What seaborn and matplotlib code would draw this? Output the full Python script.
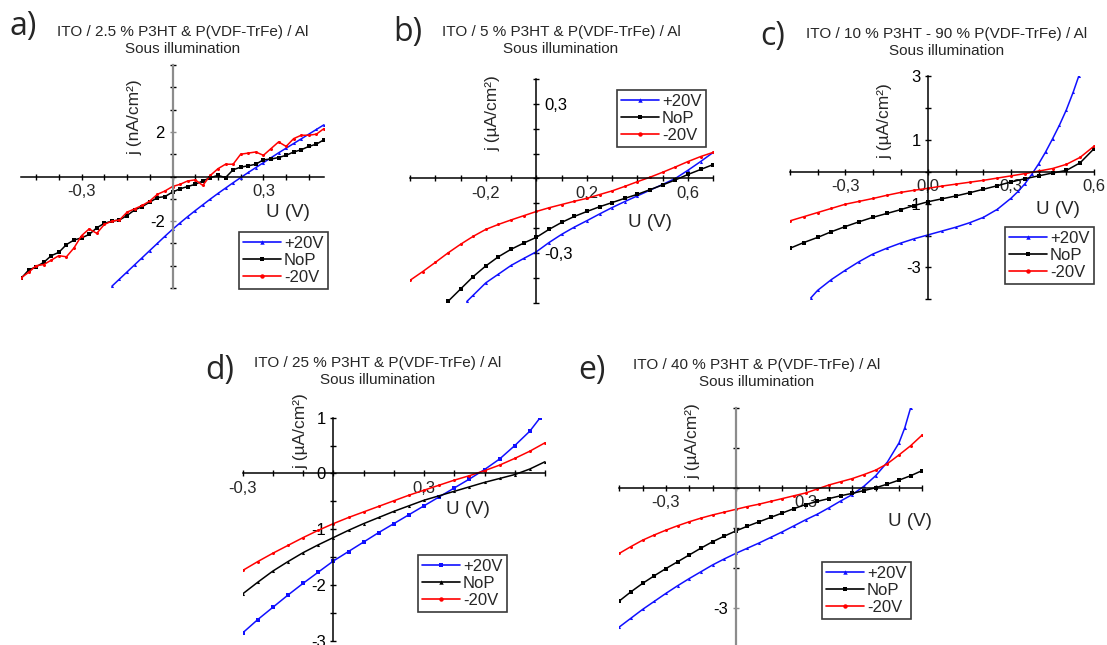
import numpy as np
import matplotlib
matplotlib.use("Agg")
import matplotlib.pyplot as plt
from matplotlib.lines import Line2D
import seaborn as sns

# ---------------- data ----------------
# a) 2.5 % P3HT  (nA/cm2)
A_U = [-0.5, -0.475, -0.45, -0.425, -0.4, -0.375, -0.35, -0.325, -0.3, -0.275, -0.25, -0.225, -0.2, -0.175,
       -0.15, -0.125, -0.1, -0.075, -0.05, -0.025, 0, 0.025, 0.05, 0.075, 0.1, 0.125, 0.15, 0.175, 0.2, 0.225,
       0.25, 0.275, 0.3, 0.325, 0.35, 0.375, 0.4, 0.425, 0.45, 0.475, 0.5]
A_NOP = [-4.57, -4.2, -4.05, -3.85, -3.55, -3.4, -3.05, -2.85, -2.75, -2.6, -2.3, -2.1, -2.0, -1.95, -1.75,
         -1.5, -1.35, -1.15, -0.95, -0.9, -0.7, -0.55, -0.45, -0.35, -0.2, -0.05, 0.05, -0.05, 0.3, 0.42,
         0.48, 0.55, 0.75, 0.78, 0.85, 0.95, 1.1, 1.2, 1.35, 1.45, 1.65]
A_M20 = [-4.55, -4.3, -4.0, -3.95, -3.75, -3.55, -3.6, -3.2, -2.65, -2.35, -2.55, -2.15, -2.0, -1.95, -1.6,
         -1.45, -1.3, -1.1, -0.8, -0.65, -0.45, -0.35, -0.2, -0.15, -0.4, 0.05, 0.35, 0.55, 0.55, 1.0,
         1.05, 1.1, 0.95, 1.25, 1.55, 1.35, 1.7, 1.85, 1.85, 1.9, 2.15]
A_U_P20 = [-0.2, -0.175, -0.15, -0.125, -0.1, -0.075, -0.05, -0.025, 0, 0.025, 0.05, 0.075, 0.1, 0.125, 0.15,
           0.175, 0.2, 0.225, 0.25, 0.275, 0.3, 0.325, 0.35, 0.375, 0.4, 0.425, 0.45, 0.475, 0.5]
A_P20 = [-4.92, -4.6, -4.28, -3.96, -3.64, -3.32, -3.0, -2.68, -2.37, -2.08, -1.8, -1.53, -1.27, -1.01, -0.76,
         -0.52, -0.28, -0.05, 0.18, 0.4, 0.62, 0.84, 1.06, 1.27, 1.48, 1.69, 1.9, 2.11, 2.32]

# b) 5 % P3HT  (uA/cm2)
B_U_M20 = [-0.5, -0.45, -0.4, -0.35, -0.3, -0.25, -0.2, -0.15, -0.1, -0.05, 0, 0.05, 0.1, 0.15, 0.2, 0.25,
           0.3, 0.35, 0.4, 0.45, 0.5, 0.55, 0.6, 0.65, 0.7]
B_M20 = [-0.41, -0.375, -0.338, -0.3, -0.265, -0.233, -0.205, -0.185, -0.167, -0.15, -0.133, -0.118, -0.105,
         -0.092, -0.08, -0.065, -0.05, -0.032, -0.013, 0.005, 0.025, 0.046, 0.068, 0.088, 0.105]
B_U_NOP = [-0.35, -0.3, -0.25, -0.2, -0.15, -0.1, -0.05, 0, 0.05, 0.1, 0.15, 0.2, 0.25, 0.3, 0.35, 0.4,
           0.45, 0.5, 0.55, 0.6, 0.65, 0.7]
B_NOP = [-0.495, -0.445, -0.395, -0.352, -0.315, -0.285, -0.26, -0.237, -0.205, -0.177, -0.153, -0.133,
         -0.114, -0.097, -0.08, -0.064, -0.045, -0.026, -0.006, 0.016, 0.036, 0.056]
B_U_P20 = [-0.275, -0.25, -0.2, -0.15, -0.1, -0.05, 0, 0.05, 0.1, 0.15, 0.2, 0.25, 0.3, 0.35, 0.4, 0.45,
           0.5, 0.55, 0.6, 0.65, 0.7]
B_P20 = [-0.495, -0.47, -0.42, -0.385, -0.35, -0.322, -0.295, -0.258, -0.225, -0.196, -0.17, -0.143,
         -0.117, -0.093, -0.07, -0.047, -0.024, 0.0, 0.033, 0.068, 0.105]

# c) 10 % P3HT  (uA/cm2)
C_U = [-0.5, -0.45, -0.4, -0.35, -0.3, -0.25, -0.2, -0.15, -0.1, -0.05, 0, 0.05, 0.1, 0.15, 0.2, 0.25,
       0.3, 0.35, 0.4, 0.45, 0.5, 0.55, 0.6]
C_NOP = [-2.4, -2.22, -2.06, -1.88, -1.72, -1.57, -1.43, -1.31, -1.19, -1.06, -0.94, -0.85, -0.76, -0.66,
         -0.55, -0.44, -0.32, -0.22, -0.13, -0.04, 0.04, 0.28, 0.72]
C_M20 = [-1.54, -1.41, -1.28, -1.15, -1.02, -0.93, -0.84, -0.74, -0.65, -0.58, -0.52, -0.45, -0.39, -0.33,
         -0.27, -0.2, -0.13, -0.06, 0.02, 0.1, 0.23, 0.45, 0.8]
C_U_P20 = [-0.425, -0.4, -0.35, -0.3, -0.25, -0.2, -0.15, -0.1, -0.05, 0, 0.05, 0.1, 0.15, 0.2, 0.25, 0.3,
           0.325, 0.35, 0.375, 0.4, 0.425, 0.45, 0.475, 0.5, 0.525, 0.545]
C_P20 = [-3.96, -3.72, -3.38, -3.09, -2.82, -2.58, -2.4, -2.24, -2.1, -1.98, -1.86, -1.74, -1.6, -1.43,
         -1.18, -0.83, -0.62, -0.38, -0.08, 0.25, 0.62, 1.03, 1.46, 1.94, 2.5, 3.0]

# d) 25 % P3HT  (uA/cm2)
D_U = [-0.3, -0.25, -0.2, -0.15, -0.1, -0.05, 0, 0.05, 0.1, 0.15, 0.2, 0.25, 0.3, 0.35, 0.4, 0.45, 0.5,
       0.55, 0.6, 0.65, 0.7]
D_NOP = [-2.16, -1.95, -1.75, -1.58, -1.42, -1.28, -1.15, -1.02, -0.9, -0.79, -0.68, -0.58, -0.48, -0.4,
         -0.32, -0.24, -0.16, -0.09, -0.02, 0.08, 0.21]
D_M20 = [-1.74, -1.58, -1.43, -1.29, -1.15, -1.02, -0.9, -0.79, -0.69, -0.59, -0.49, -0.39, -0.3, -0.21,
         -0.12, -0.04, 0.05, 0.15, 0.27, 0.4, 0.55]
D_U_P20 = [-0.3, -0.25, -0.2, -0.15, -0.1, -0.05, 0, 0.05, 0.1, 0.15, 0.2, 0.25, 0.3, 0.35, 0.4, 0.45,
           0.5, 0.55, 0.6, 0.65, 0.684]
D_P20 = [-2.86, -2.62, -2.4, -2.18, -1.97, -1.77, -1.57, -1.4, -1.23, -1.06, -0.9, -0.74, -0.58, -0.42,
         -0.26, -0.1, 0.07, 0.26, 0.5, 0.76, 1.0]

# e) 40 % P3HT  (uA/cm2)
E_U = [-0.5, -0.45, -0.4, -0.35, -0.3, -0.25, -0.2, -0.15, -0.1, -0.05, 0, 0.05, 0.1, 0.15, 0.2, 0.25,
       0.3, 0.35, 0.4, 0.45, 0.5, 0.55, 0.6, 0.65, 0.7, 0.75, 0.8]
E_NOP = [-2.83, -2.6, -2.39, -2.2, -2.02, -1.85, -1.68, -1.51, -1.35, -1.21, -1.08, -0.96, -0.85, -0.74,
         -0.63, -0.52, -0.42, -0.34, -0.27, -0.2, -0.14, -0.07, 0.0, 0.09, 0.19, 0.3, 0.43]
E_M20 = [-1.64, -1.47, -1.31, -1.18, -1.06, -0.95, -0.85, -0.76, -0.68, -0.61, -0.54, -0.47, -0.41, -0.34,
         -0.27, -0.2, -0.13, -0.03, 0.07, 0.15, 0.23, 0.33, 0.44, 0.6, 0.82, 1.05, 1.32]
E_U_P20 = [-0.5, -0.45, -0.4, -0.35, -0.3, -0.25, -0.2, -0.15, -0.1, -0.05, 0, 0.05, 0.1, 0.15, 0.2, 0.25,
           0.3, 0.35, 0.4, 0.45, 0.5, 0.55, 0.6, 0.65, 0.7, 0.725, 0.75]
E_P20 = [-3.48, -3.26, -3.04, -2.84, -2.64, -2.45, -2.27, -2.1, -1.93, -1.78, -1.64, -1.51, -1.38, -1.24,
         -1.1, -0.95, -0.8, -0.66, -0.5, -0.33, -0.17, 0.04, 0.3, 0.64, 1.12, 1.5, 2.0]

SERIES_LABELS = ["+20V", "NoP", "-20V"]
TITLES = ["ITO / 2.5 % P3HT & P(VDF-TrFe) / Al",
          "ITO / 5 % P3HT & P(VDF-TrFe) / Al",
          "ITO / 10 % P3HT - 90 % P(VDF-TrFe) / Al",
          "ITO / 25 % P3HT & P(VDF-TrFe) / Al",
          "ITO / 40 % P3HT & P(VDF-TrFe) / Al"]
SUBTITLE = "Sous illumination"
LETTERS = ["a)", "b)", "c)", "d)", "e)"]
YLABELS = ["j (nA/cm²)", "j (µA/cm²)", "j (µA/cm²)", "j (µA/cm²)", "j (µA/cm²)"]
XLABEL = "U (V)"

# ---------------- style ----------------
sns.set_style("white")
plt.rcParams['font.family'] = ['Liberation Sans', 'DejaVu Sans']
W, H = 1107, 645
fig = plt.figure(figsize=(W / 100, H / 100), dpi=100)

BLUE, BLACK, RED = "#1010ff", "#000000", "#ff0000"


def rect(l, r, t, b):
    return [l / W, 1 - b / H, (r - l) / W, (b - t) / H]


panels = [
    dict(rect=rect(21, 324, 65, 288), xlim=(-0.5, 0.5), ylim=(-5, 5),
         xt=[-0.3, 0.3], xtl=["-0,3", "0,3"], xminor=np.arange(-0.45, 0.5, 0.075),
         yt=[-2, 2], ytl=["-2", "2"], yminor=np.arange(-5, 5.1, 1), yright=False, ycol="#8c8c8c",
         series=[(A_U_P20, A_P20, BLUE, "^"), (A_U, A_NOP, BLACK, "s"), (A_U, A_M20, RED, "o")],
         leg=(239, 232), title=(183, 32), letter=(23, 26), ylab=(135, 117), xlab=(288, 212)),
    dict(rect=rect(410, 713.3, 79, 302.7), xlim=(-0.5, 0.7), ylim=(-0.5, 0.4),
         xt=[-0.2, 0.2, 0.6], xtl=["-0,2", "0,2", "0,6"], xminor=np.arange(-0.5, 0.71, 0.1),
         yt=[-0.3, 0.3], ytl=["-0,3", "0,3"], yminor=np.arange(-0.5, 0.41, 0.1), yright=True, ycol="black",
         series=[(B_U_P20, B_P20, BLUE, "^"), (B_U_NOP, B_NOP, BLACK, "s"), (B_U_M20, B_M20, RED, "o")],
         leg=(617, 90), title=(561, 32), letter=(408, 33), ylab=(493, 113), xlab=(650, 222)),
    dict(rect=rect(790, 1094, 76, 299.3), xlim=(-0.5, 0.6), ylim=(-4, 3),
         xt=[-0.3, 0.0, 0.3, 0.6], xtl=["-0,3", "0,0", "0,3", "0,6"], xminor=np.arange(-0.5, 0.61, 0.1),
         yt=[-3, -1, 1, 3], ytl=["-3", "-1", "1", "3"], yminor=np.arange(-4, 3.1, 1), yright=False,
         ycol="black",
         series=[(C_U_P20, C_P20, BLUE, "^"), (C_U, C_NOP, BLACK, "s"), (C_U, C_M20, RED, "o")],
         leg=(1005, 227), title=(947, 34), letter=(773, 37), ylab=(885, 121), xlab=(1058, 210)),
    dict(rect=rect(242.7, 545, 417.7, 640.7), xlim=(-0.3, 0.7), ylim=(-3, 1),
         xt=[-0.3, 0.3], xtl=["-0,3", "0,3"], xminor=np.arange(-0.3, 0.71, 0.1),
         yt=[-3, -2, -1, 0, 1], ytl=["-3", "-2", "-1", "0", "1"], yminor=np.arange(-3, 1.01, 0.5),
         yright=False, ycol="black",
         series=[(D_U_P20, D_P20, BLUE, "s"), (D_U, D_NOP, BLACK, "^"), (D_U, D_M20, RED, "o")],
         leg=(418, 555), title=(378, 363), letter=(220, 370), ylab=(301, 431), xlab=(468, 510)),
    dict(rect=rect(619.3, 922.3, 407.7, 645), xlim=(-0.5, 0.8), ylim=(-3.93, 2),
         xt=[-0.3, 0.3], xtl=["-0,3", "0,3"], xminor=np.arange(-0.5, 0.81, 0.1),
         yt=[-3], ytl=["-3"], yminor=np.arange(-3, 2.01, 1), yright=False, ycol="#8c8c8c",
         series=[(E_U_P20, E_P20, BLUE, "^"), (E_U, E_NOP, BLACK, "s"), (E_U, E_M20, RED, "o")],
         leg=(822, 562), title=(757, 365), letter=(592, 370), ylab=(693, 441), xlab=(910, 522)),
]

for i, p in enumerate(panels):
    ax = fig.add_axes(p["rect"])
    ax.set_facecolor("none")
    for (xs, ys, col, mk), lab in zip(p["series"], SERIES_LABELS):
        sns.lineplot(x=xs, y=ys, ax=ax, color=col, marker=mk, markersize=2.2, markeredgewidth=0,
                     linewidth=1.1, sort=False, estimator=None, legend=False)
    ax.set_xlim(*p["xlim"])
    ax.set_ylim(*p["ylim"])
    ax.set_xlabel("")
    ax.set_ylabel("")
    ax.spines["top"].set_visible(False)
    ax.spines["bottom"].set_position(("data", 0))
    ax.spines["bottom"].set_color("black")
    ax.spines["bottom"].set_linewidth(1.1)
    if p["yright"]:
        ax.spines["left"].set_visible(False)
        ax.spines["right"].set_position(("data", 0))
        yspine = ax.spines["right"]
        ax.yaxis.tick_right()
    else:
        ax.spines["right"].set_visible(False)
        ax.spines["left"].set_position(("data", 0))
        yspine = ax.spines["left"]
        ax.yaxis.tick_left()
    yspine.set_color(p["ycol"])
    yspine.set_linewidth(1.1 if p["ycol"] == "black" else 1.6)
    ax.xaxis.tick_bottom()
    ax.set_xticks(p["xt"], p["xtl"])
    ax.set_xticks(p["xminor"], minor=True)
    ax.set_yticks(p["yt"], p["ytl"])
    ax.set_yticks(p["yminor"], minor=True)
    ax.tick_params(axis="both", which="major", labelsize=12, direction="inout", length=5,
                   width=1, color="black", pad=3)
    ax.tick_params(axis="both", which="minor", direction="inout", length=4, width=1, color="black")
    ax.tick_params(axis="y", colors=p["ycol"], labelcolor="black")

    handles = [Line2D([], [], color=c, marker=m, markersize=3.2, markeredgewidth=0, linewidth=1.2)
               for (_, _, c, m) in p["series"]]
    lx, ly = p["leg"]
    leg = ax.legend(handles, SERIES_LABELS, loc="upper left", bbox_to_anchor=(lx / W, 1 - ly / H),
                    bbox_transform=fig.transFigure, frameon=True, fancybox=False, framealpha=1,
                    edgecolor="#3a3a3a", borderaxespad=0, borderpad=0.25, labelspacing=0.12,
                    handlelength=2.25, handletextpad=0.2, fontsize=12, numpoints=1)
    leg.get_frame().set_linewidth(1.2)

    tx, ty = p["title"]
    fig.text(tx / W, 1 - ty / H, TITLES[i], ha="center", va="center", fontsize=11)
    fig.text(tx / W, 1 - (ty + 17) / H, SUBTITLE, ha="center", va="center", fontsize=11)
    lx2, ly2 = p["letter"]
    fig.text(lx2 / W, 1 - ly2 / H, LETTERS[i], ha="center", va="center", fontsize=23,
             family=["Open Sans", "DejaVu Sans"])
    yx, yy = p["ylab"]
    fig.text(yx / W, 1 - yy / H, YLABELS[i], ha="center", va="center", rotation=90, fontsize=12.5)
    xx, xy = p["xlab"]
    fig.text(xx / W, 1 - xy / H, XLABEL, ha="center", va="center", fontsize=13.5)

fig.savefig("out.png", dpi=100)
